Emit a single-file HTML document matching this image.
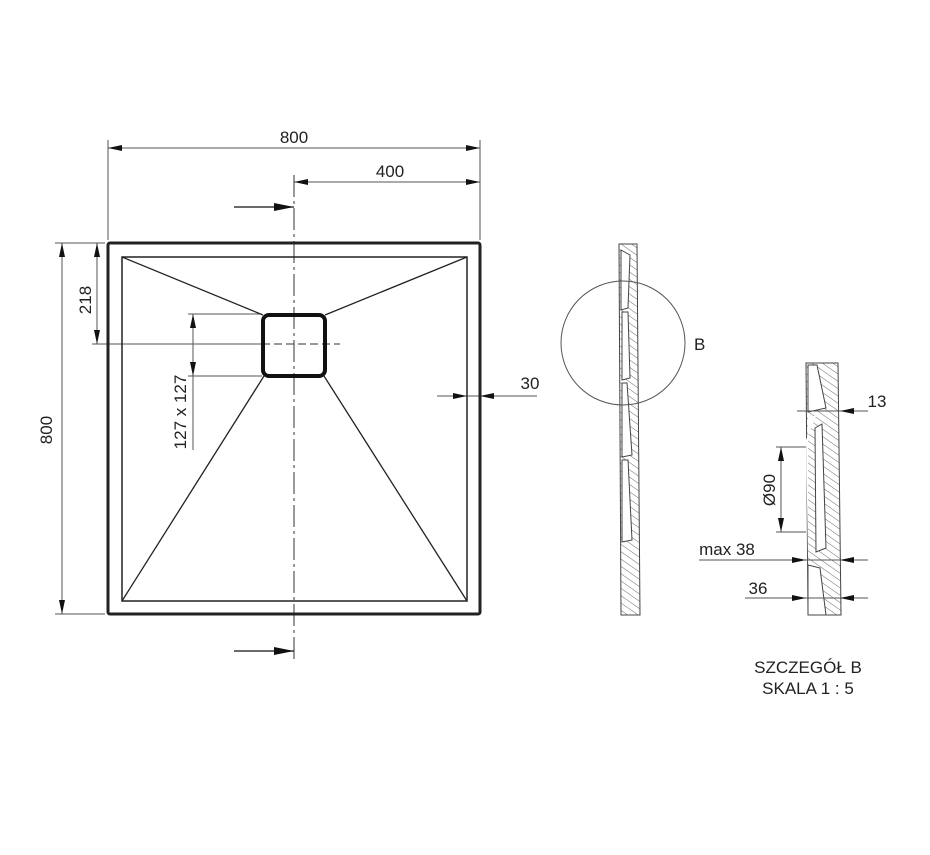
<!DOCTYPE html>
<html><head><meta charset="utf-8"><style>
html,body{margin:0;padding:0;background:#fff;}
svg{display:block;}
text{font-family:"Liberation Sans Narrow","Liberation Sans",sans-serif;font-size:17px;fill:#222;}
</style></head><body>
<svg width="930" height="855" viewBox="0 0 930 855" xmlns="http://www.w3.org/2000/svg">
<defs>
<pattern id="h" width="6" height="6" patternUnits="userSpaceOnUse" patternTransform="rotate(-55)">
<line x1="0" y1="0" x2="0" y2="6" stroke="#444" stroke-width="0.8"/></pattern>
<marker id="b" viewBox="0 0 20 8" refX="20" refY="4" markerWidth="20" markerHeight="8" orient="auto" markerUnits="userSpaceOnUse"><path d="M0,0 L20,4 L0,8 Z" fill="#111"/></marker>
</defs>
<g stroke="#555" stroke-width="1" fill="none">
<line x1="108" y1="140" x2="108" y2="240"/>
<line x1="480" y1="140" x2="480" y2="240"/>
<line x1="108" y1="148" x2="480" y2="148"/>
<line x1="294" y1="182" x2="480" y2="182"/>
<line x1="55" y1="243" x2="105" y2="243"/>
<line x1="55" y1="614" x2="105" y2="614"/>
<line x1="62" y1="243" x2="62" y2="614"/>
<line x1="97" y1="243" x2="97" y2="344"/>
<line x1="92" y1="344" x2="262" y2="344"/>
<line x1="188" y1="314" x2="262" y2="314"/>
<line x1="188" y1="376" x2="262" y2="376"/>
<line x1="193" y1="314" x2="193" y2="450"/>
<line x1="437" y1="396" x2="537" y2="396"/>
</g>
<g fill="#111">
<path d="M108,148 l14,-3 v6z M480,148 l-14,-3 v6z M294,182 l14,-3 v6z M480,182 l-14,-3 v6z"/>
<path d="M62,243 l-3,14 h6z M62,614 l-3,-14 h6z M97,243 l-3,14 h6z M97,344 l-3,-14 h6z M193,314 l-3,14 h6z M193,376 l-3,-14 h6z"/>
<path d="M467,396 l-14,-3 v6z M480,396 l14,-3 v6z"/>
</g>
<line x1="294" y1="175" x2="294" y2="660" stroke="#333" stroke-width="1" stroke-dasharray="22,4,3,4"/>
<line x1="262" y1="344" x2="340" y2="344" stroke="#333" stroke-width="1" stroke-dasharray="8,4"/>
<line x1="234" y1="207" x2="294" y2="207" stroke="#111" stroke-width="1.3" marker-end="url(#b)"/>
<line x1="234" y1="651" x2="294" y2="651" stroke="#111" stroke-width="1.3" marker-end="url(#b)"/>
<rect x="108" y="243" width="372" height="371" rx="2" fill="none" stroke="#222" stroke-width="3"/>
<rect x="122" y="257" width="345" height="344" fill="none" stroke="#222" stroke-width="1.5"/>
<g stroke="#222" stroke-width="1.3">
<line x1="122" y1="257" x2="263" y2="315"/>
<line x1="467" y1="257" x2="325" y2="315"/>
<line x1="122" y1="601" x2="264" y2="376"/>
<line x1="467" y1="601" x2="324" y2="376"/>
</g>
<rect x="263" y="315" width="62" height="61" rx="6" fill="none" stroke="#111" stroke-width="4"/>
<text x="294" y="143" text-anchor="middle">800</text>
<text x="390" y="177" text-anchor="middle">400</text>
<text x="530" y="389" text-anchor="middle">30</text>
<text transform="translate(52,430) rotate(-90)" text-anchor="middle">800</text>
<text transform="translate(91,300) rotate(-90)" text-anchor="middle">218</text>
<text transform="translate(186,412) rotate(-90)" text-anchor="middle">127 x 127</text>
<g stroke="#444" stroke-width="1">
<path d="M619,244 L637,244 L640,615 L621,615 Z" fill="url(#h)"/>
<path d="M621,250 L630,255 L628,308 L621,310 Z" fill="#fff"/>
<path d="M622,312 L628,312 L630,378 L622,380 Z" fill="#fff"/>
<path d="M622,383 L627,383 L632,455 L622,457 Z" fill="#fff"/>
<path d="M622,460 L628,460 L632,540 L622,542 Z" fill="#fff"/>
<circle cx="623" cy="343" r="62" fill="none" stroke="#555"/>
</g>
<text x="694" y="350">B</text>
<g stroke="#444" stroke-width="1">
<path d="M806,363 L838,363 L841,615 L808,615 Z" fill="url(#h)"/>
<path d="M808,365 L817,365 L826,408 L808,412 Z" fill="#fff"/>
<path d="M808,416 L816,416 L806,440 L808,560 Z" fill="#fff" stroke="none"/>
<path d="M815,428 L822,424 L826,548 L816,552 Z" fill="#fff"/>
<path d="M808,565 L820,568 L826,615 L808,615 Z" fill="#fff"/>
</g>
<g stroke="#555" stroke-width="1" fill="none">
<line x1="797" y1="411" x2="868" y2="411"/>
<line x1="776" y1="447" x2="806" y2="447"/>
<line x1="776" y1="532" x2="806" y2="532"/>
<line x1="781" y1="447" x2="781" y2="532"/>
<line x1="699" y1="560" x2="868" y2="560"/>
<line x1="745" y1="598" x2="868" y2="598"/>
</g>
<g fill="#111">
<path d="M840,411 l14,-3 v6z M781,447 l-3,14 h6z M781,532 l-3,-14 h6z M806,560 l-14,-3 v6z M840,560 l14,-3 v6z M806,598 l-14,-3 v6z M840,598 l14,-3 v6z"/>
</g>
<text x="877" y="407" text-anchor="middle">13</text>
<text transform="translate(775,490) rotate(-90)" text-anchor="middle">Ø90</text>
<text x="727" y="555" text-anchor="middle">max 38</text>
<text x="758" y="594" text-anchor="middle">36</text>
<text x="808" y="673" text-anchor="middle">SZCZEGÓŁ B</text>
<text x="808" y="694" text-anchor="middle">SKALA 1 : 5</text>
</svg>
</body></html>
